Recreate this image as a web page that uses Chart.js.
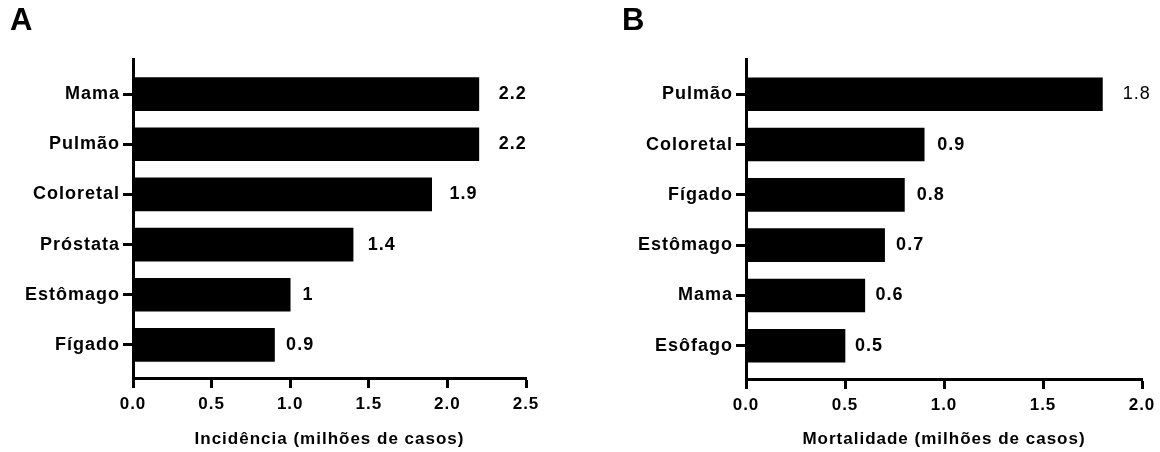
<!DOCTYPE html>
<html lang="pt">
<head>
<meta charset="utf-8">
<title>Incidência e mortalidade</title>
<script src="https://cdn.jsdelivr.net/npm/chart.js@4.4.1/dist/chart.umd.min.js"></script>
<style>
  html, body { margin: 0; padding: 0; background: #fff; }
  #wrap { position: relative; width: 1160px; height: 452px; overflow: hidden; }
  .painel { position: absolute; top: 0; width: 580px; height: 452px; }
  .letra { position: absolute; top: 2px; font: bold 31px "Liberation Sans", Arial, sans-serif; color: #000; }
</style>
</head>
<body>
<div id="wrap">
  <div class="painel" style="left:0"><canvas id="gA"></canvas></div>
  <div class="painel" style="left:580px"><canvas id="gB"></canvas></div>
  <div class="letra" style="left:10px">A</div>
  <div class="letra" style="left:622px">B</div>
</div>
<script>
// dados (milhões de casos)
var CAT_A = ["Mama", "Pulmão", "Coloretal", "Próstata", "Estômago", "Fígado"];
var VAL_A = [2.2, 2.2, 1.9, 1.4, 1.0, 0.9];
var TICKS_A = [0, 0.5, 1, 1.5, 2, 2.5];

var CAT_B = ["Pulmão", "Coloretal", "Fígado", "Estômago", "Mama", "Esôfago"];
var VAL_B = [1.8, 0.9, 0.8, 0.7, 0.6, 0.5];
var TICKS_B = [0, 0.5, 1, 1.5, 2];

(function () {
  "use strict";
  var FAM = "'Liberation Sans', Arial, sans-serif";
  var F_CAT = { family: FAM, size: 18, weight: "bold" };
  var F_EIXO = { family: FAM, size: 17, weight: "bold" };

  // espaçamento entre letras, como no original
  var espaco = {
    id: "espaco",
    beforeDraw: function (chart) { chart.ctx.letterSpacing = "1px"; }
  };

  // valores ao lado das barras
  var rotulos = {
    id: "rotulos",
    afterDatasetsDraw: function (chart, args, opts) {
      var ctx = chart.ctx, meta = chart.getDatasetMeta(0), d = chart.data.datasets[0].data;
      ctx.save();
      ctx.fillStyle = "#000"; ctx.textBaseline = "middle"; ctx.textAlign = "left";
      meta.data.forEach(function (bar, i) {
        ctx.font = (i === opts.fraco ? "" : "bold ") + "18px " + FAM;
        ctx.fillText(String(d[i].x), bar.x + 6 + 0.04 * (bar.x - bar.base), bar.y);
      });
      ctx.restore();
    }
  };

  function painel(id, cats, vals, ticks, titulo, o) {
    return new Chart(document.getElementById(id), {
      type: "bar",
      data: { datasets: [{ data: vals.map(function (v, i) { return { x: v, y: i }; }), backgroundColor: "#000", borderWidth: 0, barThickness: 33 }] },
      options: {
        indexAxis: "y", responsive: true, maintainAspectRatio: false, animation: false,
        layout: { padding: { top: 59, right: o.dir, left: 0, bottom: 0 } },
        plugins: { legend: { display: false }, tooltip: { enabled: false }, rotulos: { fraco: o.fraco } },
        scales: {
          x: {
            type: "linear", min: ticks[0], max: ticks[ticks.length - 1],
            afterBuildTicks: function (s) { s.ticks = ticks.map(function (t) { return { value: t }; }); },
            afterFit: function (s) { s.height = o.baixo; },
            grid: { drawOnChartArea: false, tickLength: 10, tickWidth: 3, tickColor: "#000" },
            border: { color: "#000", width: 3 },
            ticks: { color: "#000", font: F_EIXO, padding: 6, maxRotation: 0, autoSkip: false, callback: function (v) { return Number(v).toFixed(1); } },
            title: { display: true, text: titulo, color: "#000", font: F_EIXO, padding: { top: 4, bottom: 2 } }
          },
          y: {
            type: "linear", reverse: true, offset: false, min: -0.7, max: cats.length - 0.34,
            afterBuildTicks: function (s) { s.ticks = cats.map(function (c, i) { return { value: i }; }); },
            afterFit: function (s) { s.width = o.esq; },
            grid: { offset: false, drawOnChartArea: false, tickLength: 10, tickWidth: 3, tickColor: "#000" },
            border: { color: "#000", width: 3 },
            ticks: { color: "#000", font: F_CAT, padding: 3, autoSkip: false, callback: function (v) { return cats[v]; } }
          }
        }
      },
      plugins: [espaco, rotulos]
    });
  }

  painel("gA", CAT_A, VAL_A, TICKS_A, "Incidência (milhões de casos)", { dir: 54, esq: 133, baixo: 74, fraco: -1 });
  painel("gB", CAT_B, VAL_B, TICKS_B, "Mortalidade (milhões de casos)", { dir: 18, esq: 166, baixo: 73, fraco: 0 });
})();
</script>
</body>
</html>
